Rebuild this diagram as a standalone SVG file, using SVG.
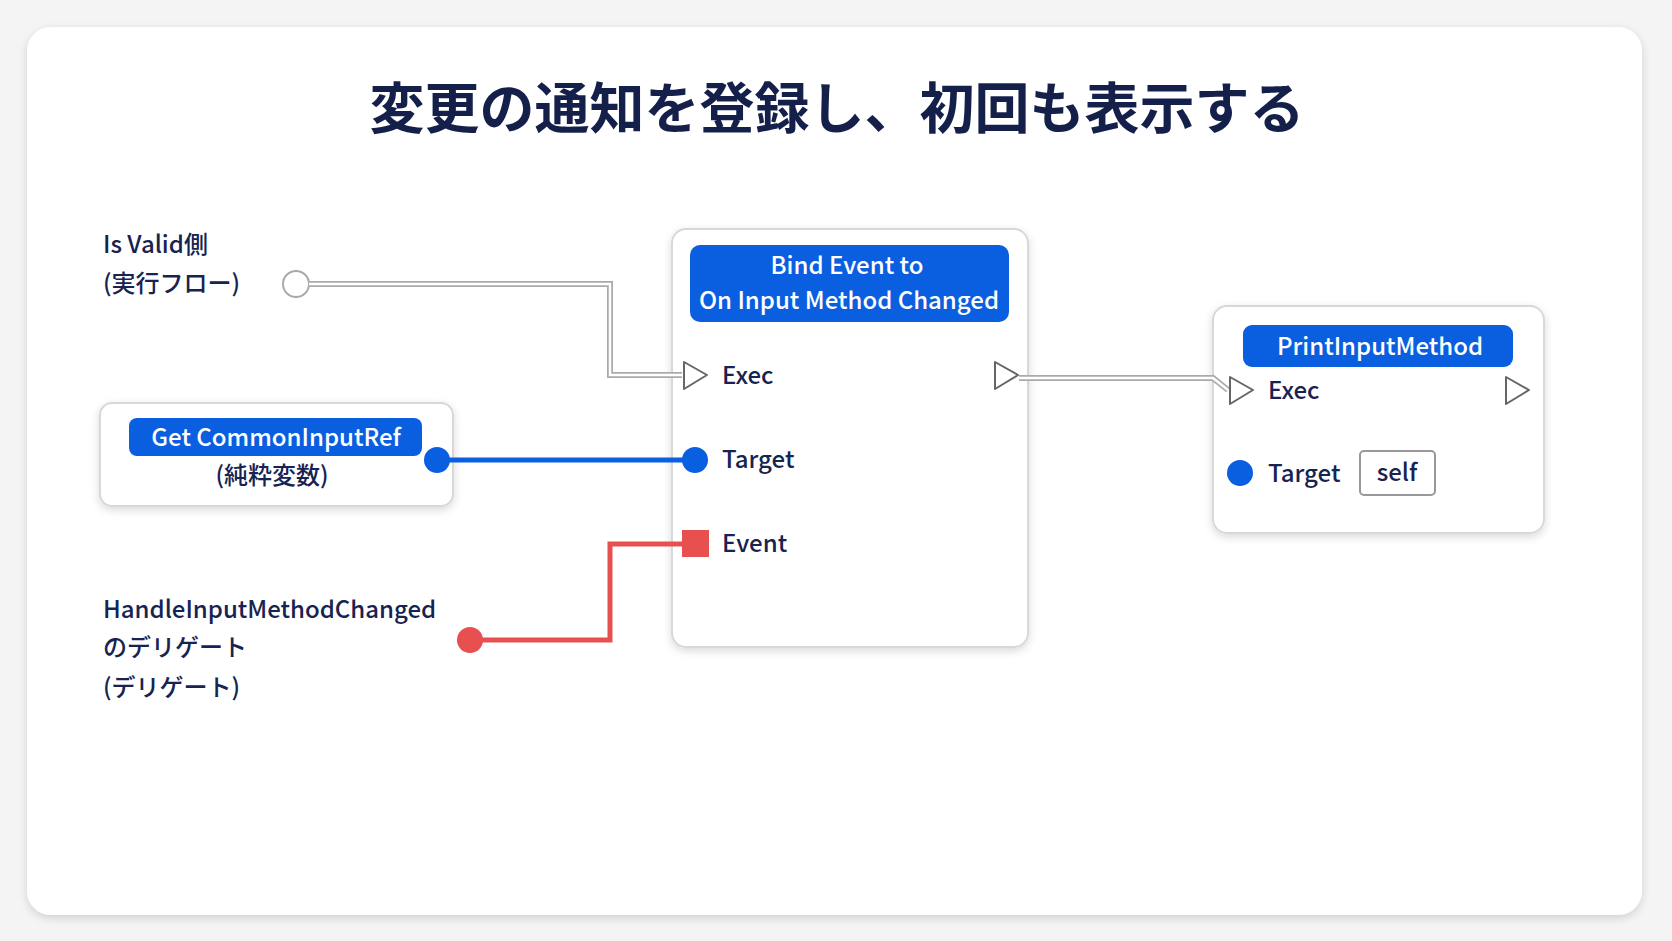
<svg xmlns="http://www.w3.org/2000/svg" width="1672" height="941" viewBox="0 0 1672 941">
<defs>
<filter id="sh" x="-10%" y="-10%" width="120%" height="130%"><feDropShadow dx="0" dy="3" stdDeviation="4" flood-color="#000" flood-opacity="0.15"/></filter>
<style>
text{font-family:"Noto Sans CJK JP","Noto Sans",sans-serif;}
.lbl{font-size:24px;fill:#172350;font-weight:500;}
.hdr{fill:#0a5fe0;}
.ht{font-size:24px;fill:#fff;text-anchor:middle;font-weight:500;}
.node{fill:#fff;stroke:#d8d8d8;stroke-width:2;filter:url(#sh);}
.tri{fill:#fff;stroke:#666;stroke-width:2;stroke-linejoin:round;}
</style>
</defs>
<rect width="1672" height="941" fill="#f4f4f4"/>
<rect x="27" y="27" width="1615" height="888" rx="24" fill="#fff" filter="url(#sh)"/>
<text x="837" y="128" font-size="55" font-weight="bold" fill="#14204a" text-anchor="middle">変更の通知を登録し、初回も表示する</text>
<g id="isvalid">
<text class="lbl" x="103" y="253">Is Valid側</text>
<text class="lbl" x="103" y="292">(実行フロー)</text>
<circle cx="296" cy="284" r="13" fill="#fff" stroke="#aaa" stroke-width="2"/>
</g>
<g id="handle">
<text class="lbl" x="103" y="618">HandleInputMethodChanged</text>
<text class="lbl" x="103" y="656">のデリゲート</text>
<text class="lbl" x="103" y="696">(デリゲート)</text>
</g>
<g id="getref">
<rect class="node" x="100" y="403" width="353" height="103" rx="12"/>
<rect class="hdr" x="129" y="418" width="293" height="38" rx="8"/>
<text class="ht" x="276" y="446">Get CommonInputRef</text>
<text class="lbl" x="272" y="484" text-anchor="middle">(純粋変数)</text>
</g>
<g id="bind">
<rect class="node" x="672" y="229" width="356" height="418" rx="14"/>
<rect class="hdr" x="690" y="245" width="319" height="77" rx="10"/>
<text class="ht" x="847" y="274">Bind Event to</text>
<text class="ht" x="849" y="309">On Input Method Changed</text>
<text class="lbl" x="722" y="384">Exec</text>
<text class="lbl" x="722" y="468">Target</text>
<text class="lbl" x="722" y="552">Event</text>
</g>
<g id="print">
<rect class="node" x="1213" y="306" width="331" height="227" rx="14"/>
<rect class="hdr" x="1243" y="325" width="270" height="42" rx="9"/>
<text class="ht" x="1380" y="355">PrintInputMethod</text>
<text class="lbl" x="1268" y="399">Exec</text>
<text class="lbl" x="1268" y="482">Target</text>
<rect x="1360" y="451" width="75" height="44" rx="4" fill="#fff" stroke="#999" stroke-width="2"/>
<text class="lbl" x="1397" y="481" text-anchor="middle">self</text>
</g>
<g id="connectors" fill="none">
<path d="M309,284 H610 V375 H682" stroke="#aaa" stroke-width="6"/>
<path d="M309,284 H610 V375 H682" stroke="#fff" stroke-width="2.5"/>
<path d="M1019,378 H1213 L1228,390" stroke="#aaa" stroke-width="6"/>
<path d="M1019,378 H1213 L1228,390" stroke="#fff" stroke-width="2.5"/>
<path d="M437,460 H695" stroke="#0a5fe0" stroke-width="5"/>
<path d="M682,544 H610 V640 H470" stroke="#e85050" stroke-width="5"/>
</g>
<g id="pins">
<circle cx="470" cy="640" r="13" fill="#e85050"/>
<circle cx="437" cy="460" r="13" fill="#0a5fe0"/>
<path class="tri" d="M684,362 L707,375 L684,389 Z"/>
<path class="tri" d="M995,362 L1018,375 L995,389 Z"/>
<circle cx="695" cy="460" r="13" fill="#0a5fe0"/>
<rect x="682" y="530" width="27" height="27" fill="#e85050"/>
<path class="tri" d="M1230,377 L1253,390 L1230,404 Z"/>
<path class="tri" d="M1506,377 L1529,390 L1506,404 Z"/>
<circle cx="1240" cy="473" r="13" fill="#0a5fe0"/>
</g>
</svg>
